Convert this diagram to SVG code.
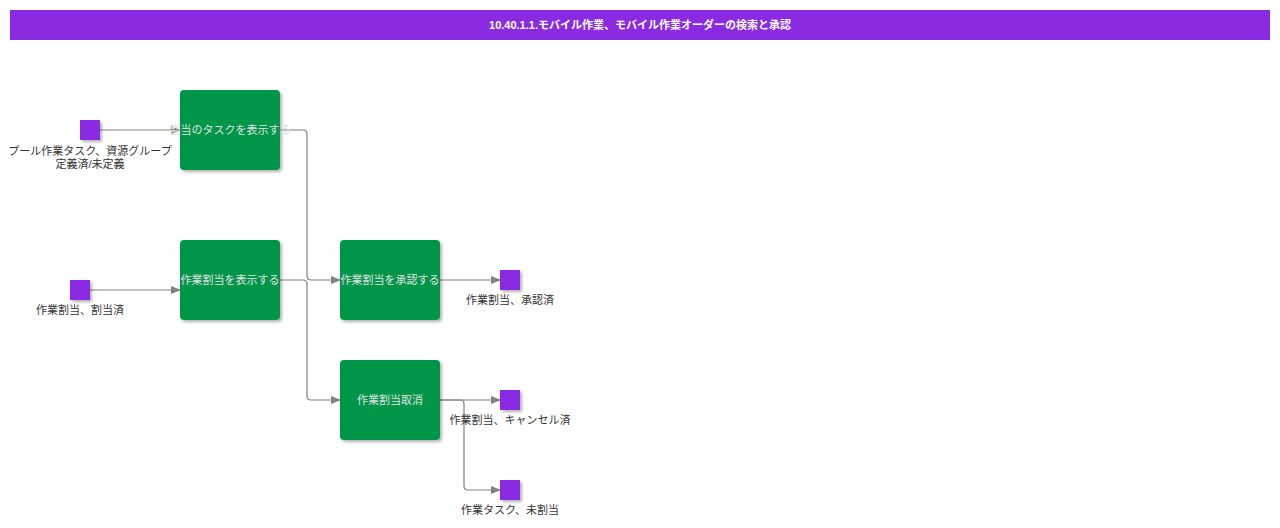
<svg xmlns="http://www.w3.org/2000/svg" width="1280" height="528" viewBox="0 0 1280 528">
<style>
text{font-family:"Liberation Sans","Noto Sans CJK JP",sans-serif;font-size:11px}
.box{fill:#00964a;filter:url(#sh)}
.bt{fill:#e0e0e0;text-anchor:middle}
.sq{fill:#8a2be2;filter:url(#sh)}
.lt{fill:#333;text-anchor:middle}
.c{fill:none;stroke:#808080;stroke-width:1.2;marker-end:url(#a)}
</style>
<defs>
<filter id="sh" x="-10%" y="-10%" width="130%" height="130%"><feDropShadow dx="2" dy="2" stdDeviation="1.5" flood-opacity="0.3"/></filter>
<marker id="a" markerWidth="10" markerHeight="8" refX="9" refY="4" orient="auto" markerUnits="userSpaceOnUse"><path d="M0,0L10,4L0,8z" fill="#808080"/></marker>
</defs>
<rect x="10" y="10" width="1260" height="30" fill="#8a2be2"/>
<text x="640" y="29" fill="#fff" text-anchor="middle" font-weight="bold" font-size="12">10.40.1.1.モバイル作業、モバイル作業オーダーの検索と承認</text>
<g id="connectors">
<path class="c" d="M100,130H180"/>
<path class="c" d="M90,290H180"/>
<path class="c" d="M280,130H303Q307,130 307,134V276Q307,280 311,280H340"/>
<path class="c" d="M280,280H303Q307,280 307,284V396Q307,400 311,400H340"/>
<path class="c" d="M440,280H500"/>
<path class="c" d="M440,400H500"/>
<path class="c" d="M440,400H460Q464,400 464,404V486Q464,490 468,490H500"/>
</g>
<g id="n1"><rect class="box" x="180" y="90" width="100" height="80" rx="4"/><text class="bt" x="230" y="134">割当のタスクを表示する</text></g>
<g id="n2"><rect class="box" x="180" y="240" width="100" height="80" rx="4"/><text class="bt" x="230" y="284">作業割当を表示する</text></g>
<g id="n3"><rect class="box" x="340" y="240" width="100" height="80" rx="4"/><text class="bt" x="390" y="284">作業割当を承認する</text></g>
<g id="n4"><rect class="box" x="340" y="360" width="100" height="80" rx="4"/><text class="bt" x="390" y="404">作業割当取消</text></g>
<g id="s1"><rect class="sq" x="80" y="120" width="20" height="20"/><text class="lt" x="90" y="155">プール作業タスク、資源グループ</text><text class="lt" x="90" y="168">定義済/未定義</text></g>
<g id="s2"><rect class="sq" x="70" y="280" width="20" height="20"/><text class="lt" x="80" y="314">作業割当、割当済</text></g>
<g id="s3"><rect class="sq" x="500" y="270" width="20" height="20"/><text class="lt" x="510" y="304">作業割当、承認済</text></g>
<g id="s4"><rect class="sq" x="500" y="390" width="20" height="20"/><text class="lt" x="510" y="424">作業割当、キャンセル済</text></g>
<g id="s5"><rect class="sq" x="500" y="480" width="20" height="20"/><text class="lt" x="510" y="514">作業タスク、未割当</text></g>
</svg>
